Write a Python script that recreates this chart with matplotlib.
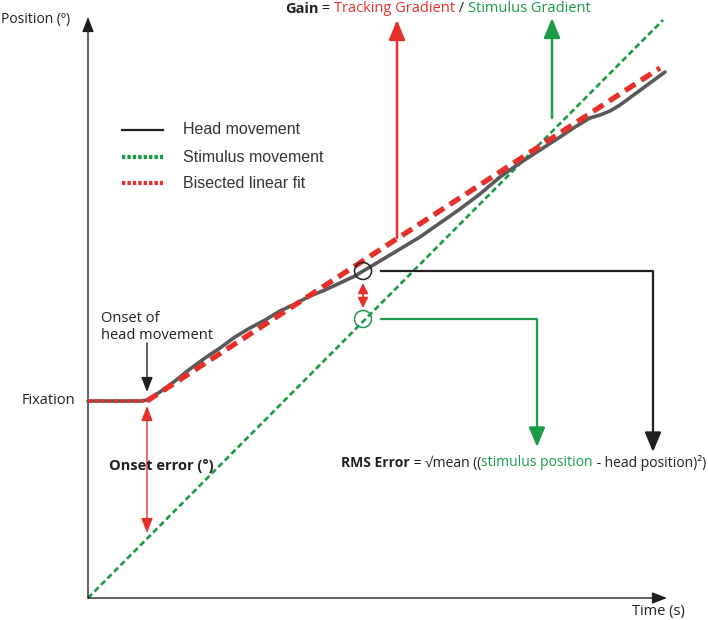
import matplotlib.pyplot as plt
from matplotlib.patches import Circle

# schematic coordinates (canvas units, y grows downwards)
origin = (88, 598)
y_axis_top = 17
x_axis_end = 667
fixation_y = 401
onset_x = 147

stim_x = [88, 663]
stim_y = [598, 20]

fit_flat_x = [88, 147]
fit_flat_y = [401, 401]
fit_x = [147, 660]
fit_y = [401, 68]

head_x = [88, 140, 147, 152, 160, 175, 190, 205, 220, 235, 250, 265, 280, 295, 310, 325,
          340, 355, 363, 370, 385, 400, 420, 440, 460, 480, 500, 520, 540, 560, 575,
          590, 600, 610, 620, 635, 650, 665]
head_y = [401, 401, 400, 397, 392, 381, 369, 358, 348, 337, 328, 320, 311, 304, 296, 290,
          283, 276, 271, 267, 258, 249, 237, 223, 209, 194, 177, 163, 150, 137, 127,
          118, 115, 111, 105, 94, 83, 72]

legend_labels = ["Head movement", "Stimulus movement", "Bisected linear fit"]
legend_y = [130, 157, 183]

head_pt = (363, 271)
stim_pt = (363, 319)
black_route_x = [381, 653, 653]
black_route_y = [271, 271, 452]
green_route_x = [381, 537, 537]
green_route_y = [319, 319, 447]
gain_red_x, gain_red_y = 397, (238, 20)
gain_green_x, gain_green_y = 552, (118, 18)

RED = "#e8302a"
GREEN = "#1c9a4b"
STIM = "#1a9a45"
HEAD = "#595959"
BLACK = "#231f20"
FONT = ["Open Sans", "DejaVu Sans"]

fig = plt.figure(figsize=(7.08, 6.2), dpi=100)
ax = fig.add_axes([0, 0, 1, 1])
ax.set_xlim(0, 708)
ax.set_ylim(620, 0)
ax.axis("off")


def arrow(tail, tip, color, lw, style="-|>", hl=1.2, hw=0.5):
    ax.annotate("", xy=tip, xytext=tail,
                arrowprops=dict(arrowstyle=f"{style},head_length={hl},head_width={hw}",
                                color=color, lw=lw, shrinkA=0, shrinkB=0))


# axes
arrow(origin, (origin[0], y_axis_top), BLACK, 1.0, hl=0.9, hw=0.35)
arrow(origin, (x_axis_end, origin[1]), BLACK, 1.0, hl=0.9, hw=0.35)

# stimulus line
ax.plot(stim_x, stim_y, color=STIM, lw=1.9, dashes=(2.2, 1.3), zorder=2)
# head movement
ax.plot(head_x, head_y, color=HEAD, lw=2.6, solid_capstyle="round", zorder=3)
# bisected fit
ax.plot(fit_flat_x, fit_flat_y, color=RED, lw=2.6, dashes=(1.1, 0.7), zorder=4)
ax.plot(fit_x, fit_y, color=RED, lw=3.8, dashes=(2.3, 1.3), zorder=4)

# legend (drawn by hand to match the sample styles)
ax.plot([122, 163], [legend_y[0]] * 2, color=BLACK, lw=1.6)
ax.plot([122, 163], [legend_y[1]] * 2, color=STIM, lw=3.0, dashes=(0.8, 0.5))
ax.plot([122, 163], [legend_y[2]] * 2, color=RED, lw=3.0, dashes=(0.8, 0.5))
for lab, ly in zip(legend_labels, legend_y):
    ax.text(183, ly, lab, fontsize=11.5, family=["Liberation Sans"], color="#333333",
            va="center", ha="left")

# circles and connectors
ax.add_patch(Circle(head_pt, 8.5, fill=False, ec=BLACK, lw=1.1, zorder=5))
ax.add_patch(Circle(stim_pt, 8.5, fill=False, ec=GREEN, lw=1.1, zorder=5))
arrow((363, 283), (363, 308), RED, 1.3, style="<|-|>", hl=0.6, hw=0.3)

ax.plot(black_route_x, black_route_y[:-1] + [black_route_y[-1] - 14], color=BLACK, lw=1.6)
arrow((black_route_x[-1], black_route_y[-1] - 15), (black_route_x[-1], black_route_y[-1]),
      BLACK, 1.6, hl=1.2, hw=0.5)
ax.plot(green_route_x, green_route_y[:-1] + [green_route_y[-1] - 14], color=GREEN, lw=1.6)
arrow((green_route_x[-1], green_route_y[-1] - 15), (green_route_x[-1], green_route_y[-1]),
      GREEN, 1.6, hl=1.2, hw=0.5)

# gain arrows
arrow((gain_red_x, gain_red_y[0]), (gain_red_x, gain_red_y[1]), RED, 1.8)
arrow((gain_green_x, gain_green_y[0]), (gain_green_x, gain_green_y[1]), GREEN, 1.8)

# onset arrows
arrow((onset_x, 343), (onset_x, 392), BLACK, 1.0, hl=0.9, hw=0.35)
arrow((onset_x, 406), (onset_x, 533), RED, 1.0, style="<|-|>", hl=0.9, hw=0.35)

# texts
fig.canvas.draw()
renderer = fig.canvas.get_renderer()


def pieces(x, y, parts, size, right=False):
    texts = []
    for s, color, weight in parts:
        t = ax.text(x, y, s, color=color, fontsize=size, fontweight=weight,
                    family=FONT, va="center", ha="left")
        texts.append(t)
        x += t.get_window_extent(renderer).width
    if right:
        total = x - texts[0].get_position()[0]
        for t in texts:
            px, py = t.get_position()
            t.set_position((px - total, py))


pieces(285, 9, [("Gain", BLACK, "bold"), (" = ", BLACK, "normal"),
                ("Tracking Gradient", RED, "normal"), (" / ", BLACK, "normal"),
                ("Stimulus Gradient", GREEN, "normal")], 10.5)
pieces(706, 463, [("RMS Error", BLACK, "bold"), (" = \u221amean ((", BLACK, "normal"),
                  ("stimulus position", GREEN, "normal"),
                  (" - head position)\u00b2)", BLACK, "normal")], 10, right=True)

ax.text(1, 20, "Position (\u00ba)", fontsize=10, family=FONT, color=BLACK, va="center")
ax.text(632, 611, "Time (s)", fontsize=10.5, family=FONT, color=BLACK, va="center")
ax.text(75, fixation_y, "Fixation", fontsize=10.5, family=FONT, color=BLACK,
        va="center", ha="right")
ax.text(101, 327, "Onset of\nhead movement", fontsize=10.5, family=FONT, color=BLACK,
        va="center", ha="left", linespacing=1.2)
ax.text(109, 466, "Onset error (\u00b0)", fontsize=10.5, family=FONT, color=BLACK,
        fontweight="bold", va="center", ha="left")

fig.savefig("out.png", dpi=100)
